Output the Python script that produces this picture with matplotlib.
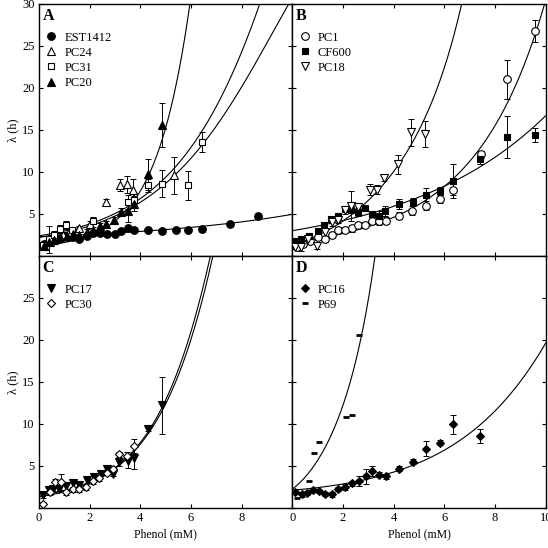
import numpy as np
import matplotlib
matplotlib.use("Agg")
import matplotlib.pyplot as plt

plt.rcParams['font.family'] = ['Liberation Serif', 'DejaVu Serif']
plt.rcParams['font.size'] = 9

# ---------------- panel A ----------------
est1412_x = [0.2, 0.4, 0.6, 0.8, 1.1, 1.35, 1.6, 1.9, 2.15, 2.4, 2.7, 3.0, 3.25, 3.5, 3.75, 4.3, 4.85, 5.4, 5.9, 6.45, 7.55, 8.65]
est1412_y = [1.4, 1.6, 1.9, 2.0, 2.3, 2.2, 2.0, 2.4, 2.7, 2.7, 2.6, 2.6, 3.0, 3.3, 3.1, 3.1, 3.0, 3.1, 3.1, 3.2, 3.8, 4.7]
est1412_e = [0.2, 0.2, 0.2, 0.2, 0.2, 0.2, 0.2, 0.2, 0.2, 0.2, 0.2, 0.2, 0.2, 0.3, 0.2, 0.2, 0.2, 0.2, 0.3, 0.3, 0.2, 0.2]

pc24_x = [0.2, 0.45, 0.7, 0.95, 1.2, 1.6, 2.0, 2.65, 3.2, 3.47, 3.73, 5.34]
pc24_y = [1.2, 1.6, 2.1, 2.5, 2.8, 3.3, 3.8, 6.4, 8.4, 8.5, 7.9, 9.6]
pc24_e = [0.3, 0.3, 0.3, 0.3, 0.3, 0.3, 0.3, 0.4, 0.7, 1.0, 1.3, 2.2]

pc31_x = [0.15, 0.4, 0.6, 0.85, 1.05, 1.3, 2.15, 3.5, 3.75, 4.3, 4.85, 5.9, 6.45]
pc31_y = [1.3, 2.0, 2.5, 3.2, 3.7, 3.1, 4.2, 6.4, 6.6, 8.4, 8.6, 8.4, 13.6]
pc31_e = [0.4, 1.6, 0.5, 0.5, 0.5, 0.3, 0.4, 0.8, 0.9, 0.8, 1.6, 1.7, 1.2]

pc20_x = [0.2, 0.4, 0.6, 0.85, 1.1, 1.35, 1.6, 1.9, 2.15, 2.4, 2.65, 2.95, 3.25, 3.5, 3.75, 4.3, 4.85]
pc20_y = [1.2, 1.6, 1.9, 2.2, 2.4, 2.6, 2.5, 2.9, 3.1, 3.6, 3.8, 4.3, 5.2, 5.4, 6.2, 9.7, 15.6]
pc20_e = [0.3, 0.3, 0.3, 0.3, 0.3, 0.3, 0.3, 0.3, 0.3, 0.3, 0.3, 0.3, 0.5, 1.4, 0.9, 1.8, 2.6]

fitA_est_x = [0.0, 4.85, 9.9]
fitA_est_y = [2.3, 3.1, 4.9]
fitA_pc24_x = [0.0, 2.4, 3.7, 4.85, 6.3, 8.7]
fitA_pc24_y = [2.4, 4.1, 6.5, 8.9, 14.0, 30.0]
fitA_pc31_x = [0.0, 2.4, 3.7, 4.85, 6.46, 9.85]
fitA_pc31_y = [2.2, 3.9, 6.0, 8.2, 13.2, 30.0]
fitA_pc20_x = [0.0, 2.0, 3.0, 3.77, 4.3, 4.85, 5.5, 6.03]
fitA_pc20_y = [1.2, 2.6, 4.0, 6.0, 9.3, 15.2, 22.5, 30.0]

# ---------------- panel B ----------------
pc1_x = [0.17, 0.43, 0.7, 1.03, 1.3, 1.55, 1.82, 2.08, 2.35, 2.6, 2.87, 3.15, 3.4, 3.68, 4.2, 4.73, 5.26, 5.81, 6.35, 7.43, 8.48, 9.57]
pc1_y = [1.1, 1.4, 1.8, 2.2, 2.0, 2.5, 3.1, 3.1, 3.3, 3.7, 3.7, 4.2, 4.1, 4.2, 4.8, 5.4, 6.0, 6.8, 7.9, 12.1, 21.0, 26.8]
pc1_e = [0.3, 0.3, 0.3, 0.3, 0.4, 0.4, 0.3, 0.3, 0.4, 0.3, 0.3, 0.4, 0.4, 0.4, 0.4, 0.5, 0.5, 0.5, 0.7, 0.4, 2.3, 1.3]

cf600_x = [0.05, 0.35, 0.65, 1.0, 1.26, 1.53, 1.8, 2.06, 2.33, 2.6, 2.88, 3.15, 3.41, 3.67, 4.2, 4.75, 5.27, 5.81, 6.35, 7.42, 8.48, 9.57]
cf600_y = [1.8, 2.0, 2.4, 3.0, 3.7, 4.4, 4.8, 5.6, 5.5, 5.2, 5.7, 5.0, 4.8, 5.4, 6.2, 6.4, 7.2, 7.7, 8.9, 11.5, 14.2, 14.4]
cf600_e = [0.3, 0.3, 0.3, 0.3, 0.3, 0.3, 0.3, 0.4, 0.4, 0.5, 0.3, 0.4, 0.5, 0.6, 0.6, 0.5, 0.9, 0.5, 2.0, 0.6, 2.5, 0.85]

pc18_x = [0.12, 0.34, 0.6, 0.98, 1.3, 1.57, 1.8, 2.06, 2.32, 2.58, 3.08, 3.35, 3.63, 4.16, 4.7, 5.23]
pc18_y = [1.1, 1.1, 2.0, 1.2, 2.8, 4.0, 4.3, 5.5, 5.9, 5.8, 7.9, 7.9, 9.3, 10.9, 14.7, 14.5]
pc18_e = [0.3, 0.5, 0.4, 0.4, 0.4, 0.4, 0.4, 0.5, 1.8, 0.5, 0.6, 0.5, 0.4, 1.1, 1.6, 1.5]

fitB_pc1_x = [0.0, 2.5, 4.66, 5.92, 7.4, 8.48, 9.87]
fitB_pc1_y = [1.6, 3.1, 5.4, 8.2, 12.6, 18.6, 28.9]
fitB_cf600_x = [0.0, 2.9, 5.92, 10.0]
fitB_cf600_y = [3.0, 4.9, 8.2, 16.7]
fitB_pc18_x = [0.0, 1.5, 2.6, 4.16, 5.06, 5.85, 6.7]
fitB_pc18_y = [1.3, 3.2, 5.6, 10.7, 15.0, 21.7, 30.0]

# ---------------- panel C ----------------
pc17_x = [0.17, 0.4, 0.55, 0.8, 1.07, 1.33, 1.6, 1.9, 2.19, 2.45, 2.69, 2.94, 3.17, 3.5, 3.75, 4.3, 4.85]
pc17_y = [1.5, 2.2, 2.3, 2.3, 2.6, 3.0, 2.7, 3.3, 3.7, 4.1, 4.7, 4.1, 5.5, 5.6, 6.0, 9.4, 12.2]
pc17_e = [0.3, 0.3, 0.3, 0.3, 0.4, 0.5, 0.3, 0.3, 0.3, 0.3, 0.4, 0.3, 0.5, 0.8, 1.3, 0.2, 3.35]

pc30_x = [0.17, 0.43, 0.63, 0.86, 1.07, 1.33, 1.59, 1.86, 2.12, 2.38, 2.67, 2.94, 3.17, 3.47, 3.75]
pc30_y = [0.5, 1.85, 3.1, 3.1, 1.85, 2.25, 2.25, 2.5, 3.2, 3.55, 4.2, 4.6, 6.4, 6.2, 7.4]
pc30_e = [0.2, 0.3, 0.4, 0.9, 0.3, 0.3, 0.3, 0.3, 0.3, 0.3, 0.3, 0.3, 0.3, 0.5, 0.8]

fitC_pc17_x = [0.0, 1.5, 2.7, 3.75, 4.85, 5.57, 6.79]
fitC_pc17_y = [1.5, 2.6, 4.0, 6.8, 12.0, 17.4, 30.0]
fitC_pc30_x = [0.0, 1.5, 2.7, 3.75, 4.85, 5.6, 6.89]
fitC_pc30_y = [1.3, 2.5, 3.9, 6.6, 11.6, 17.0, 30.0]

# ---------------- panel D ----------------
pc16_x = [0.12, 0.38, 0.58, 0.81, 1.05, 1.29, 1.55, 1.82, 2.08, 2.34, 2.63, 2.9, 3.16, 3.42, 3.68, 4.2, 4.75, 5.28, 5.81, 6.33, 7.4]
pc16_y = [1.95, 1.65, 1.8, 2.1, 2.0, 1.65, 1.65, 2.25, 2.5, 2.95, 3.25, 3.75, 4.4, 3.95, 3.8, 4.7, 5.5, 7.05, 7.75, 9.95, 8.55]
pc16_e = [0.2, 0.3, 0.2, 0.2, 0.2, 0.2, 0.3, 0.2, 0.3, 0.3, 0.6, 0.9, 0.6, 0.3, 0.3, 0.3, 0.3, 0.9, 0.3, 1.1, 0.8]

p69_x = [0.19, 0.64, 0.84, 1.07, 2.1, 2.36, 2.63]
p69_y = [1.15, 3.2, 6.6, 7.9, 10.85, 11.05, 20.6]

fitD_p69_x = [0.0, 0.5, 1.16, 1.84, 2.08, 3.26]
fitD_p69_y = [2.25, 3.6, 6.6, 10.9, 12.9, 30.0]
fitD_pc16_x = [0.0, 1.16, 2.48, 3.8, 5.1, 5.77, 7.43, 8.75, 9.41, 10.0]
fitD_pc16_y = [2.2, 2.35, 3.0, 4.3, 5.8, 6.6, 9.2, 13.9, 17.6, 19.5]


def fit_line(ax, xs, ys):
    deg = min(3, len(xs) - 1)
    p = np.polyfit(xs, np.log(ys), deg)
    xmax = xs[-1] + 0.4 if ys[-1] >= 29 else 10
    xx = np.linspace(0, min(xmax, 10), 400)
    ax.plot(xx, np.exp(np.polyval(p, xx)), color='black', lw=0.8, zorder=2)


def series(ax, x, y, e, marker, filled, label, ms=5.5):
    fc = 'black' if filled else 'white'
    if e is not None:
        ax.errorbar(x, y, yerr=e, fmt='none', ecolor='black', elinewidth=0.7,
                    capsize=2.2, capthick=0.7, zorder=3)
    ax.plot(x, y, ls='none', marker=marker, ms=ms, mfc=fc, mec='black',
            mew=0.8, zorder=4, label=label)


fig, axs = plt.subplots(2, 2, figsize=(5.48, 5.48), dpi=100)
plt.subplots_adjust(left=0.071, right=0.996, top=0.993, bottom=0.073, wspace=0, hspace=0)
axA, axB = axs[0]
axC, axD = axs[1]

fit_line(axA, fitA_est_x, fitA_est_y)
fit_line(axA, fitA_pc24_x, fitA_pc24_y)
fit_line(axA, fitA_pc31_x, fitA_pc31_y)
fit_line(axA, fitA_pc20_x, fitA_pc20_y)
series(axA, est1412_x, est1412_y, est1412_e, 'o', True, 'EST1412')
series(axA, pc24_x, pc24_y, pc24_e, '^', False, 'PC24')
series(axA, pc31_x, pc31_y, pc31_e, 's', False, 'PC31', ms=5)
series(axA, pc20_x, pc20_y, pc20_e, '^', True, 'PC20')

fit_line(axB, fitB_pc1_x, fitB_pc1_y)
fit_line(axB, fitB_cf600_x, fitB_cf600_y)
fit_line(axB, fitB_pc18_x, fitB_pc18_y)
series(axB, pc1_x, pc1_y, pc1_e, 'o', False, 'PC1')
series(axB, cf600_x, cf600_y, cf600_e, 's', True, 'CF600', ms=5)
series(axB, pc18_x, pc18_y, pc18_e, 'v', False, 'PC18')

fit_line(axC, fitC_pc17_x, fitC_pc17_y)
fit_line(axC, fitC_pc30_x, fitC_pc30_y)
series(axC, pc17_x, pc17_y, pc17_e, 'v', True, 'PC17')
series(axC, pc30_x, pc30_y, pc30_e, 'D', False, 'PC30', ms=4.5)

fit_line(axD, fitD_p69_x, fitD_p69_y)
fit_line(axD, fitD_pc16_x, fitD_pc16_y)
series(axD, pc16_x, pc16_y, pc16_e, 'D', True, 'PC16', ms=4.5)
axD.plot(p69_x, p69_y, ls='none', marker='_', ms=5, mew=2, color='black', zorder=4, label='P69')

letters = ['A', 'B', 'C', 'D']
for i, ax in enumerate([axA, axB, axC, axD]):
    ax.set_xlim(0, 10)
    ax.set_ylim(0, 30)
    ax.tick_params(direction='in', top=True, right=True, length=3, width=0.8, labelsize=9, pad=3)
    for s in ax.spines.values():
        s.set_linewidth(1.0)
    ax.text(0.015, 0.985, letters[i], transform=ax.transAxes, ha='left', va='top',
            fontsize=11.5, fontweight='bold')
    ax.legend(loc='upper left', bbox_to_anchor=(0.0, 0.915), frameon=False, fontsize=9,
              handlelength=1.0, handletextpad=0.55, labelspacing=0.25, borderpad=0.3,
              borderaxespad=0.2)

yt = [0, 5, 10, 15, 20, 25, 30]
axA.set_yticks(yt, ['', '5', '10', '15', '20', '25', '30'])
axC.set_yticks(yt, ['', '5', '10', '15', '20', '25', ''])
axB.set_yticks(yt, [''] * 7)
axD.set_yticks(yt, [''] * 7)
xt = [0, 2, 4, 6, 8, 10]
axA.set_xticks(xt, [''] * 6)
axB.set_xticks(xt, [''] * 6)
axC.set_xticks(xt, ['0', '2', '4', '6', '8', ''])
axD.set_xticks(xt, ['0', '2', '4', '6', '8', '10'])

axA.set_ylabel('λ (h)', labelpad=2, fontsize=9)
axC.set_ylabel('λ (h)', labelpad=2, fontsize=9)
axC.set_xlabel('Phenol (mM)', labelpad=3, fontsize=8.5)
axD.set_xlabel('Phenol (mM)', labelpad=3, fontsize=8.5)

plt.savefig('out.png', dpi=100)
